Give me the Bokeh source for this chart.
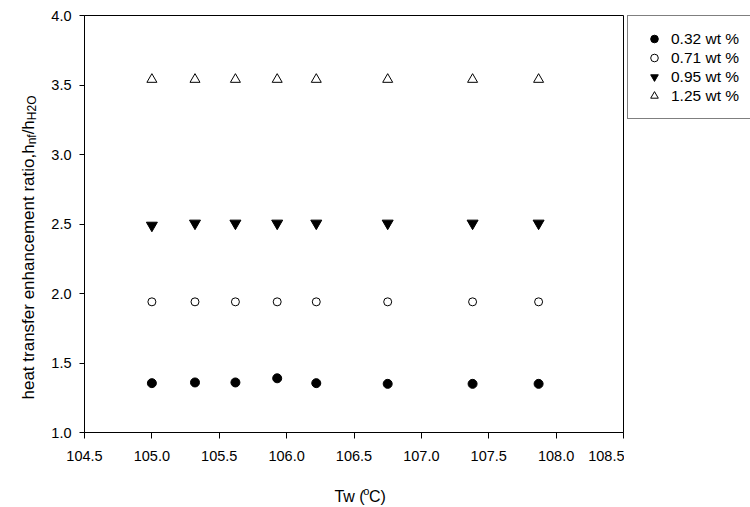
import math
from bokeh.plotting import figure
from bokeh.layouts import row, column
from bokeh.models import Range1d, FixedTicker, NumeralTickFormatter, Legend, LegendItem
from bokeh.core.properties import value
from bokeh.embed import file_html
from bokeh.resources import INLINE

# ---- data ----
tw = [105.0, 105.32, 105.62, 105.93, 106.22, 106.75, 107.38, 107.87]
r_032 = [1.355, 1.36, 1.36, 1.39, 1.355, 1.35, 1.35, 1.35]
r_071 = [1.94, 1.94, 1.94, 1.94, 1.94, 1.94, 1.94, 1.94]
r_095 = [2.49, 2.505, 2.505, 2.505, 2.505, 2.505, 2.505, 2.505]
r_125 = [3.54, 3.54, 3.54, 3.54, 3.54, 3.54, 3.54, 3.54]
series_labels = ["0.32 wt %", "0.71 wt %", "0.95 wt %", "1.25 wt %"]
x_ticks = [104.5, 105.0, 105.5, 106.0, 106.5, 107.0, 107.5, 108.0, 108.5]
y_ticks = [1.0, 1.5, 2.0, 2.5, 3.0, 3.5, 4.0]

FONT = "Liberation Sans"
W, H = 750, 507
YW = 44            # strip for the y-axis title
XH = 37            # strip for the x-axis title
LEFT, TOP, FW, FH = 84 - YW, 15, 539, 417
PW, PH = LEFT + FW + 1, H - XH
LW = W - YW - PW   # strip for the legend

p = figure(width=PW, height=PH, frame_width=FW, frame_height=FH,
           output_backend="svg", toolbar_location=None,
           x_range=Range1d(104.5, 108.5), y_range=Range1d(1.0, 4.0),
           min_border_left=LEFT, min_border_top=TOP,
           min_border_right=1, min_border_bottom=PH - TOP - FH)
p.grid.visible = False
p.outline_line_color = "black"
p.outline_line_width = 1
p.background_fill_color = "white"
p.border_fill_color = "white"

for ax in (p.xaxis[0], p.yaxis[0]):
    ax.axis_line_color = "black"
    ax.major_tick_line_color = "black"
    ax.minor_tick_line_color = None
    ax.major_tick_in = 0
    ax.major_label_text_font = FONT
    ax.major_label_text_font_size = "14.5px"
    ax.major_label_text_color = "black"
    ax.formatter = NumeralTickFormatter(format="0.0")
p.xaxis[0].ticker = FixedTicker(ticks=x_ticks)
p.yaxis[0].ticker = FixedTicker(ticks=y_ticks)
p.xaxis[0].major_tick_out = 6
p.yaxis[0].major_tick_out = 5
p.xaxis[0].major_label_standoff = 12
p.yaxis[0].major_label_standoff = 8

series = [r_032, r_071, r_095, r_125]
styles = [dict(marker="circle", size=9, fill_color="black", line_color="black"),
          dict(marker="circle", size=8, fill_color="white", line_color="black", line_width=1),
          dict(marker="inverted_triangle", size=11, fill_color="black", line_color="black"),
          dict(marker="triangle", size=10, fill_color="white", line_color="black", line_width=1)]
for ys, st in zip(series, styles):
    p.scatter(tw, ys, **st)

# Arial-compatible advance widths (per 1000 em)
AW = {' ': 278, 'a': 556, 'b': 556, 'c': 500, 'd': 556, 'e': 556, 'f': 278, 'h': 556,
      'i': 222, 'm': 833, 'n': 556, 'o': 556, 'r': 333, 's': 500, 't': 278, ',': 278,
      '/': 278, 'H': 722, 'O': 778, '2': 556, 'T': 611, 'w': 722, '(': 333, ')': 333,
      'C': 722}
def tw_(s, fs):
    return sum(AW.get(c, 556) for c in s) * fs / 1000.0

def strip(width, height, x0=0):
    f = figure(width=width, height=height, output_backend="svg", toolbar_location=None,
               x_range=Range1d(x0, x0 + width), y_range=Range1d(0, height),
               min_border=0, x_axis_location=None, y_axis_location=None)
    f.grid.visible = False
    f.outline_line_color = None
    f.border_fill_color = "white"
    f.background_fill_color = "white"
    return f

# ---- legend (strip to the right; its series renderers fall outside its view) ----
lf = strip(LW, H, x0=1000)
items = []
for lab, ys, st in zip(series_labels, series, styles):
    r = lf.scatter(tw, ys, **st)
    items.append(LegendItem(label=lab, renderers=[r]))
legend = Legend(items=items, location=(627 - YW - PW, H - 17 - 102),
                padding=13, spacing=0, glyph_width=26, glyph_height=19,
                label_height=19, label_width=80, label_standoff=4,
                label_text_font=FONT, label_text_font_size="15.5px",
                label_text_color="black",
                border_line_color="black", border_line_width=1,
                background_fill_color="white", background_fill_alpha=1.0, margin=0)
lf.add_layout(legend)

# ---- y-axis title with subscripts (strip to the left) ----
yf = strip(YW, H)
F, FS = 17, 12
segs = [("heat transfer enhancement ratio,h", F, 0), ("nf", FS, 3),
        ("/h", F, 0), ("H2O", FS, 3)]
pos = H - 399
base_x = 28
for s, f, off in segs:
    yf.text(x=[base_x + off], y=[pos], text=[s], angle=math.pi / 2,
            text_font=value(FONT), text_font_size=value(f"{f}px"),
            text_align="left", text_baseline="alphabetic", text_color="black")
    pos += tw_(s, f)

# ---- x-axis title with superscript (strip below) ----
xf = strip(PW, XH)
FX, FXS = 16, 11
xsegs = [("Tw (", FX, 0), ("o", FXS, 6), ("C)", FX, 0)]
total = sum(tw_(s, f) for s, f, _ in xsegs)
pos = 355 - 15 - YW - total / 2
base_y = H - 496
for s, f, off in xsegs:
    xf.text(x=[pos], y=[base_y + off], text=[s],
            text_font=value(FONT), text_font_size=value(f"{f}px"),
            text_align="left", text_baseline="alphabetic", text_color="black")
    pos += tw_(s, f)

layout = row(yf, column(p, xf, spacing=0), lf, spacing=0)
open("out.html", "w").write(file_html(layout, INLINE))
